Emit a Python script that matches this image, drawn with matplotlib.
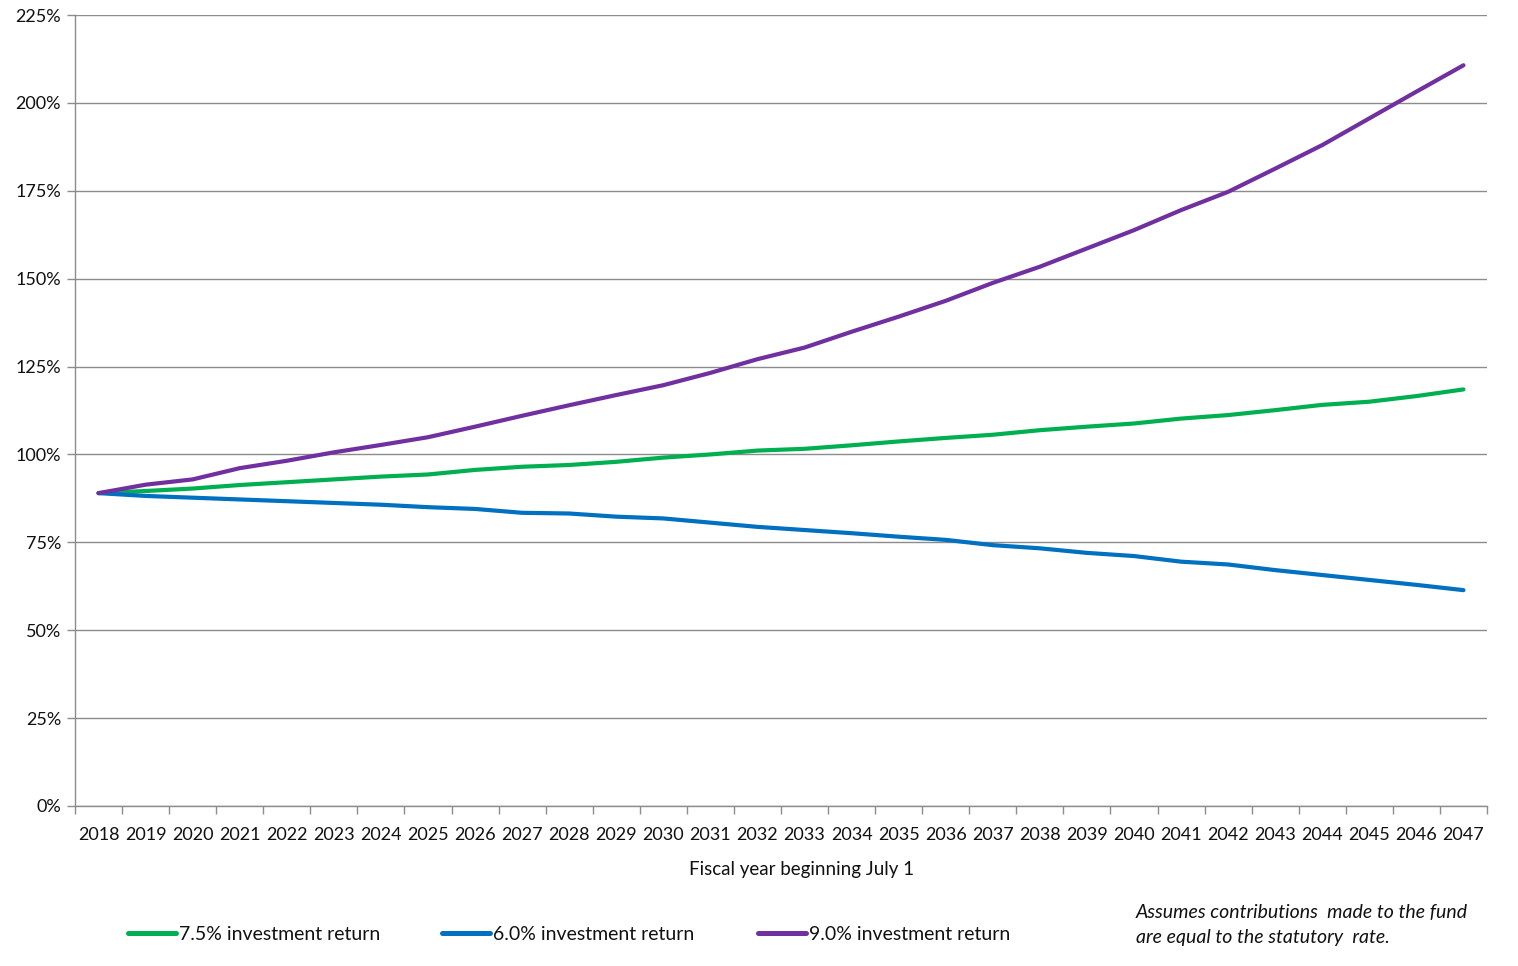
import matplotlib
matplotlib.use("Agg")
import matplotlib.pyplot as plt
from matplotlib.ticker import FixedLocator, PercentFormatter
from matplotlib.lines import Line2D

years = list(range(2018, 2048))
ret_75 = [89.0, 89.6, 90.3, 91.3, 92.1, 92.9, 93.7, 94.3, 95.6, 96.5,
          97.0, 97.9, 99.1, 100.0, 101.1, 101.6, 102.6, 103.7, 104.7, 105.6,
          106.9, 107.9, 108.8, 110.2, 111.2, 112.6, 114.1, 115.0, 116.6, 118.5]
ret_60 = [89.0, 88.2, 87.7, 87.2, 86.7, 86.2, 85.7, 85.0, 84.5, 83.4,
          83.2, 82.3, 81.8, 80.6, 79.4, 78.5, 77.6, 76.6, 75.7, 74.2,
          73.3, 72.0, 71.1, 69.5, 68.7, 67.1, 65.7, 64.3, 62.9, 61.4]
ret_90 = [89.0, 91.4, 92.9, 96.1, 98.2, 100.6, 102.7, 104.9, 107.9, 111.0,
          114.0, 116.9, 119.7, 123.2, 127.1, 130.4, 134.9, 139.2, 143.7, 148.8,
          153.4, 158.6, 163.8, 169.5, 174.7, 181.3, 188.0, 195.6, 203.2, 210.7]
series_labels = ["7.5% investment return", "6.0% investment return", "9.0% investment return"]
colors = ["#00B050", "#0070C0", "#7030A0"]
x_title = "Fiscal year beginning July 1"
note = "Assumes contributions  made to the fund\nare equal to the statutory  rate."

plt.rcParams['font.family'] = ['Lato', 'DejaVu Sans']

W, H = 1518, 966
fig = plt.figure(figsize=(W / 100, H / 100), dpi=100)
ax = fig.add_axes([75 / W, 1 - 806 / H, (1487 - 75) / W, (806 - 15) / H])

xs = list(range(len(years)))
for vals, c in zip([ret_75, ret_60, ret_90], colors):
    ax.plot(xs, vals, color=c, lw=3.0, solid_capstyle='round', solid_joinstyle='round', zorder=3)

ax.set_xlim(-0.5, len(years) - 0.5)
ax.set_ylim(0, 225)
ax.yaxis.set_major_locator(FixedLocator([0, 25, 50, 75, 100, 125, 150, 175, 200, 225]))
ax.yaxis.set_major_formatter(PercentFormatter(decimals=0))
ax.grid(axis='y', color='#8c8c8c', lw=1.0, zorder=1)
ax.set_axisbelow(True)

ax.set_xticks(xs)
ax.set_xticklabels([str(y) for y in years])
ax.set_xticks([i - 0.5 for i in range(len(years) + 1)], minor=True)
ax.tick_params(axis='x', which='major', length=0, pad=15, labelsize=13, labelcolor='#111111')
ax.tick_params(axis='x', which='minor', length=6, width=1.0, color='#8c8c8c', direction='out')
ax.tick_params(axis='y', which='major', length=6, width=1.0, color='#8c8c8c', direction='out',
               pad=4, labelsize=13, labelcolor='#111111')

for s in ['top', 'right']:
    ax.spines[s].set_visible(False)
for s in ['left', 'bottom']:
    ax.spines[s].set_color('#8c8c8c')
    ax.spines[s].set_linewidth(1.0)

fig.text(802 / W, 1 - 870 / H, x_title, ha='center', va='center', fontsize=13.5, color='#111111')

leg_x = [128, 442, 758]
for lab, c, lx in zip(series_labels, colors, leg_x):
    h = Line2D([], [], color=c, lw=3.6, solid_capstyle='round')
    fig.legend([h], [lab], loc='center left', bbox_to_anchor=(lx / W, 1 - 934 / H),
               frameon=False, handlelength=2.47, handletextpad=0.15,
               borderaxespad=0, borderpad=0, fontsize=14, labelcolor='#111111')

fig.text(1136 / W, 1 - 925 / H, note, ha='left', va='center', fontsize=14,
         style='italic', color='#111111', linespacing=1.6)

fig.savefig("out.png", dpi=100)
